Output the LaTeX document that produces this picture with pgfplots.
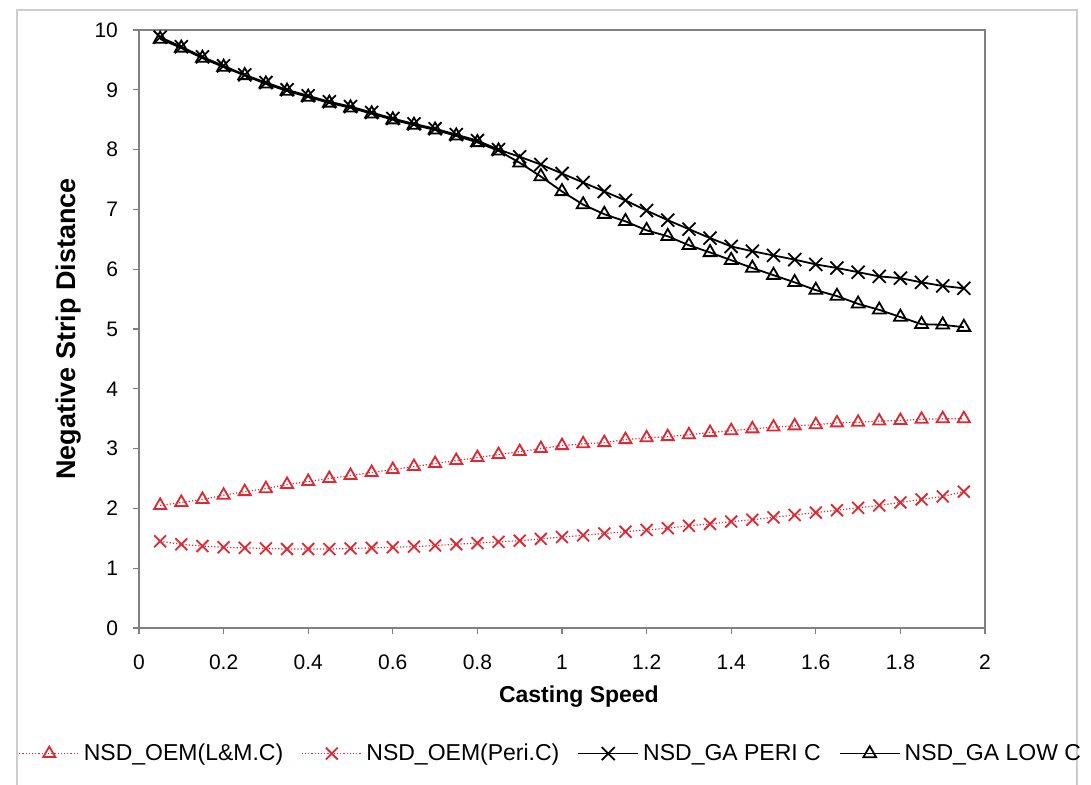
\documentclass[border=0pt]{standalone}
\usepackage{pgfplots}
\pgfplotsset{compat=1.18}
\usepackage{fontspec}
\setmainfont{Liberation Sans}
\definecolor{myred}{RGB}{222,40,50}
\definecolor{axgray}{RGB}{128,128,128}
\definecolor{framegray}{RGB}{205,205,205}
\pgfplotstableread{
x lm peri gaperi galow
0.05 2.05 1.45 9.88 9.85
0.10 2.10 1.40 9.72 9.70
0.15 2.15 1.37 9.55 9.53
0.20 2.22 1.35 9.40 9.38
0.25 2.28 1.34 9.25 9.24
0.30 2.33 1.33 9.12 9.10
0.35 2.40 1.32 9.00 8.98
0.40 2.45 1.32 8.90 8.88
0.45 2.50 1.32 8.80 8.78
0.50 2.55 1.33 8.72 8.70
0.55 2.60 1.34 8.62 8.60
0.60 2.65 1.35 8.52 8.50
0.65 2.70 1.36 8.43 8.41
0.70 2.75 1.38 8.35 8.33
0.75 2.80 1.40 8.25 8.23
0.80 2.85 1.42 8.15 8.12
0.85 2.90 1.44 8.00 7.98
0.90 2.95 1.46 7.88 7.78
0.95 3.00 1.49 7.75 7.55
1.00 3.05 1.52 7.60 7.30
1.05 3.08 1.55 7.45 7.08
1.10 3.10 1.58 7.30 6.92
1.15 3.15 1.61 7.15 6.80
1.20 3.18 1.64 6.98 6.65
1.25 3.20 1.67 6.82 6.55
1.30 3.23 1.71 6.67 6.40
1.35 3.27 1.74 6.52 6.28
1.40 3.30 1.78 6.38 6.15
1.45 3.33 1.81 6.30 6.02
1.50 3.36 1.85 6.23 5.90
1.55 3.38 1.89 6.16 5.78
1.60 3.40 1.93 6.08 5.65
1.65 3.43 1.97 6.02 5.55
1.70 3.44 2.01 5.95 5.42
1.75 3.46 2.05 5.88 5.32
1.80 3.47 2.10 5.85 5.20
1.85 3.49 2.15 5.78 5.08
1.90 3.50 2.20 5.72 5.07
1.95 3.50 2.28 5.68 5.03
}\datatable
\begin{document}
\begin{tikzpicture}
\clip (0,0) rectangle (545.5pt,392.5pt);
\fill[white] (0,0) rectangle (545.5pt,392.5pt);
\draw[framegray, line width=0.8pt] (8.5pt,-5pt) rectangle (538.5pt,387.5pt);
\begin{axis}[
  at={(69.5pt,78.5pt)}, anchor=south west,
  scale only axis, width=423pt, height=299pt,
  xmin=0, xmax=2, ymin=0, ymax=10,
  xtick={0,0.2,...,2.01}, ytick={0,1,...,10},
  tick align=outside, tick pos=left, major tick length=3pt,
  axis line style={axgray, line width=0.8pt},
  every tick/.style={axgray, line width=0.6pt},
  /pgf/number format/assume math mode=true,
  ticklabel style={font=\fontsize{10.5}{12}\selectfont},
  yticklabel style={xshift=-4pt},
  xticklabel style={yshift=-7pt},
  xlabel={\textbf{Casting Speed}},
  ylabel={\textbf{Negative Strip Distance}},
  xlabel style={font=\fontsize{11.5}{13}\selectfont, at={(0.52,-0.115)}, anchor=center},
  ylabel style={font=\fontsize{13.5}{15}\selectfont, at={(-0.083,0.5)}, anchor=center, rotate=0},
  clip=false,
  legend columns=4,
  legend style={draw=none, fill=none, at={(0.488,-0.21)}, anchor=center,
    font=\fontsize{11.5}{13}\selectfont,
    /tikz/every even column/.append style={column sep=7pt},
    /tikz/every odd column/.append style={column sep=0pt},
    inner sep=0pt},
  legend cell align=left,
  legend image code/.code={\draw[mark repeat=2,mark phase=2,#1] plot coordinates {(0pt,0pt) (15pt,0pt) (30pt,0pt)};},
]
\addplot[myred, line width=0.6pt, densely dotted, mark=triangle, mark size=3.5pt, mark options={solid, line width=0.9pt}] table[x=x,y=lm] {\datatable};
\addlegendentry{NSD\_OEM(L\&M.C)}
\addplot[myred, line width=0.6pt, densely dotted, mark=x, mark size=4.2pt, mark options={solid, line width=0.9pt}] table[x=x,y=peri] {\datatable};
\addlegendentry{NSD\_OEM(Peri.C)}
\addplot[black, line width=0.9pt, mark=x, mark size=4.6pt, mark options={solid, line width=0.9pt}] table[x=x,y=gaperi] {\datatable};
\addlegendentry{NSD\_GA PERI C}
\addplot[black, line width=0.9pt, mark=triangle, mark size=3.7pt, mark options={solid, line width=0.9pt}] table[x=x,y=galow] {\datatable};
\addlegendentry{NSD\_GA LOW C}
\end{axis}
\end{tikzpicture}
\end{document}
